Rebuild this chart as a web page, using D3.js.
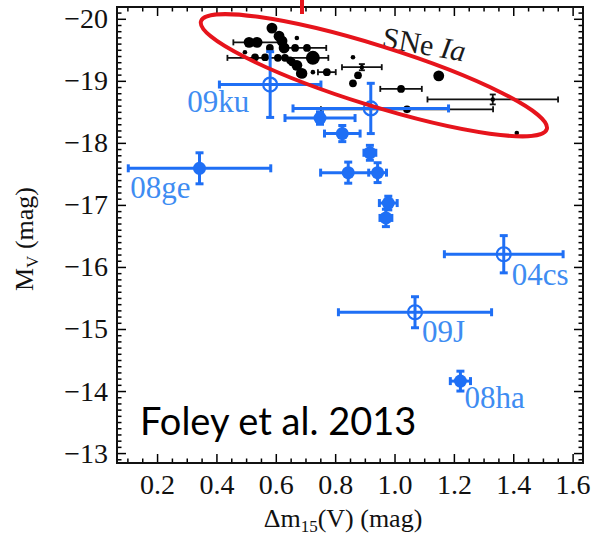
<!DOCTYPE html>
<html>
<head>
<meta charset="utf-8">
<script src="https://cdn.jsdelivr.net/npm/d3@7"></script>
<style>
  body { margin: 0; background: #fff; }
  svg { display: block; }
</style>
</head>
<body>
<svg id="chart" width="597" height="535"></svg>
<script>
// axis ticks
const xTicks = [0.2, 0.4, 0.6, 0.8, 1.0, 1.2, 1.4, 1.6];
const yTicks = [-20, -19, -18, -17, -16, -15, -14, -13];

// peculiar objects (blue)
const blueName = ["09ku", "", "", "", "08ge", "", "", "", "", "", "04cs", "09J", "08ha"];
const blueDm15 = [0.581, 0.749, 0.920, 0.824, 0.343, 0.917, 0.844, 0.943, 0.979, 0.971, 1.368, 1.069, 1.222];
const blueDm15Err = [0.171, 0.118, 0.262, 0.060, 0.240, 0.020, 0.093, 0.030, 0.030, 0.020, 0.200, 0.258, 0.034];
const blueMv = [-18.94, -18.40, -18.555, -18.15, -17.59, -17.84, -17.52, -17.52, -17.03, -16.79, -16.205, -15.27, -14.16];
const blueMvErr = [0.53, 0.10, 0.405, 0.13, 0.25, 0.12, 0.17, 0.16, 0.11, 0.14, 0.30, 0.25, 0.16];
const blueOpen = [true, false, true, false, false, false, false, false, false, false, true, true, false];

// normal SNe Ia (black)
const sniaDm15 = [0.587, 0.611, 0.621, 0.628, 0.537, 0.510, 0.496, 0.530, 0.580, 0.671, 0.665, 0.648, 0.671, 0.688,
                  0.607, 0.631, 0.725, 0.705, 0.681, 0.725, 0.772, 0.860, 0.890, 0.877, 0.860, 1.022, 1.149, 1.042,
                  1.331, 1.412, 0.564, 0.655];
const sniaDm15Err = [0, 0, 0, 0, 0.08, 0, 0, 0, 0, 0, 0, 0, 0, 0,
                     0.17, 0, 0, 0.065, 0, 0, 0.03, 0, 0.067, 0, 0, 0.07, 0, 0.29,
                     0.22, 0, 0, 0];
const sniaMv = [-19.85, -19.72, -19.64, -19.53, -19.62, -19.62, -19.46, -19.38, -19.53, -19.69, -19.53, -19.33, -19.25, -19.12,
                -19.37, -19.37, -19.37, -19.53, -19.12, -19.14, -19.14, -19.38, -19.22, -19.09, -18.96, -18.87, -19.08, -18.54,
                -18.70, -18.16, -19.38, -19.30];
const sniaMvErr = [0, 0, 0, 0, 0, 0, 0, 0, 0, 0, 0, 0, 0, 0,
                   0, 0, 0, 0, 0, 0, 0, 0, 0.05, 0, 0, 0, 0, 0,
                   0.08, 0, 0, 0];
// relative marker weight as seen in the figure
const sniaWeight = [3, 3, 3, 3, 3, 3, 1, 2, 2, 1, 2, 2, 3, 3,
                    2, 2, 4, 2, 2, 1, 2, 1, 1, 2, 2, 2, 3, 2,
                    1, 1, 2, 2];

// ellipse drawn round the SNe Ia group (tips in data units)
const ellipseTips = [[0.348, -19.96], [1.513, -18.22]];

const blue = "#1f6ff5";
const blueText = "#3e8cf2";
const red = "#e6141c";
const SERIF = "'Liberation Serif', 'Times New Roman', Times, serif";

class ScatterView {
  constructor(id) {
    this.svg = d3.select("#" + id);
    this.margin = {top: 7, right: 14, bottom: 72, left: 117};
    this.width = +this.svg.attr("width") - this.margin.left - this.margin.right;
    this.height = +this.svg.attr("height") - this.margin.top - this.margin.bottom;
    this.g = this.svg.append("g")
        .attr("transform", "translate(" + this.margin.left + "," + this.margin.top + ")");
    this.x = d3.scaleLinear().domain([0.065, 1.635]).range([0, this.width]);
    this.y = d3.scaleLinear().domain([-12.84, -20.19]).range([this.height, 0]);
  }

  drawAxes() {
    const x = this.x, y = this.y, w = this.width, h = this.height;
    const xMinor = d3.range(2, 33).map(i => i * 0.05).filter(v => Math.abs(v * 5 - Math.round(v * 5)) > 1e-6);
    const yMinor = d3.range(-201, -128).map(i => i / 10).filter(v => Math.abs(v - Math.round(v)) > 1e-6);

    const addAxis = (axis, transform) => {
      const a = this.g.append("g").attr("class", "axis").attr("transform", transform).call(axis);
      a.attr("font-family", SERIF);
      a.select(".domain").remove();
      a.selectAll(".tick line").attr("stroke", "#000").attr("stroke-width", 1.5);
      return a;
    };

    // major with labels
    const bottom = addAxis(d3.axisBottom(x).tickValues(xTicks).tickSize(-9).tickPadding(11).tickFormat(d3.format(".1f")),
      "translate(0," + h + ")");
    bottom.selectAll("text").attr("font-size", 28).attr("fill", "#111");
    const left = addAxis(d3.axisLeft(y).tickValues(yTicks).tickSize(-9).tickPadding(9).tickFormat(d3.format("d")),
      "translate(0,0)");
    left.selectAll("text").attr("font-size", 28).attr("fill", "#111");

    addAxis(d3.axisTop(x).tickValues(xTicks).tickSize(-9).tickFormat(""), "translate(0,0)");
    addAxis(d3.axisRight(y).tickValues(yTicks).tickSize(-9).tickFormat(""), "translate(" + w + ",0)");

    // minor ticks
    addAxis(d3.axisBottom(x).tickValues(xMinor).tickSize(-4.5).tickFormat(""), "translate(0," + h + ")");
    addAxis(d3.axisTop(x).tickValues(xMinor).tickSize(-4.5).tickFormat(""), "translate(0,0)");
    addAxis(d3.axisLeft(y).tickValues(yMinor).tickSize(-4.5).tickFormat(""), "translate(0,0)");
    addAxis(d3.axisRight(y).tickValues(yMinor).tickSize(-4.5).tickFormat(""), "translate(" + w + ",0)");

    this.g.append("rect")
        .attr("width", w).attr("height", h)
        .attr("fill", "none").attr("stroke", "#111").attr("stroke-width", 2);

    // axis titles
    const xt = this.g.append("text")
        .attr("x", w / 2 - 7).attr("y", h + 64)
        .attr("text-anchor", "middle")
        .attr("font-family", SERIF).attr("font-size", 26).attr("fill", "#111");
    xt.append("tspan").text("\u0394m");
    xt.append("tspan").attr("font-size", 17).attr("dy", 5).text("15");
    xt.append("tspan").attr("dy", -5).text("(V) (mag)");

    const yt = this.g.append("text")
        .attr("transform", "translate(" + (-84) + "," + (h / 2 + 4) + ") rotate(-90)")
        .attr("text-anchor", "middle")
        .attr("font-family", SERIF).attr("font-size", 26).attr("fill", "#111");
    yt.append("tspan").text("M");
    yt.append("tspan").attr("font-size", 17).attr("dy", 5).text("V");
    yt.append("tspan").attr("dy", -5).text(" (mag)");
  }

  errorBars(layer, pts, color, lw, cap) {
    const x = this.x, y = this.y;
    pts.forEach(function(d) {
      const cx = x(d.dm), cy = y(d.mv);
      if (d.dmErr > 0) {
        const x0 = x(d.dm - d.dmErr), x1 = x(d.dm + d.dmErr);
        layer.append("line").attr("x1", x0).attr("x2", x1).attr("y1", cy).attr("y2", cy);
        layer.append("line").attr("x1", x0).attr("x2", x0).attr("y1", cy - cap).attr("y2", cy + cap);
        layer.append("line").attr("x1", x1).attr("x2", x1).attr("y1", cy - cap).attr("y2", cy + cap);
      }
      if (d.mvErr > 0) {
        const y0 = y(d.mv - d.mvErr), y1 = y(d.mv + d.mvErr);
        layer.append("line").attr("x1", cx).attr("x2", cx).attr("y1", y0).attr("y2", y1);
        layer.append("line").attr("x1", cx - cap).attr("x2", cx + cap).attr("y1", y0).attr("y2", y0);
        layer.append("line").attr("x1", cx - cap).attr("x2", cx + cap).attr("y1", y1).attr("y2", y1);
      }
    });
    layer.attr("stroke", color).attr("stroke-width", lw);
  }

  loadData() {
    const x = this.x, y = this.y;
    const snia = sniaDm15.map((v, i) => ({dm: v, dmErr: sniaDm15Err[i], mv: sniaMv[i], mvErr: sniaMvErr[i], w: sniaWeight[i]}));
    const pec = blueDm15.map((v, i) => ({name: blueName[i], dm: v, dmErr: blueDm15Err[i], mv: blueMv[i], mvErr: blueMvErr[i], open: blueOpen[i]}));
    const r = d3.scaleLinear().domain([1, 4]).range([2.3, 7]);

    this.errorBars(this.g.append("g"), snia, "#111", 1.8, 3);
    this.g.append("g").selectAll("circle")
        .data(snia).enter().append("circle")
        .attr("cx", d => x(d.dm)).attr("cy", d => y(d.mv))
        .attr("r", d => r(d.w)).attr("fill", "#000");

    this.errorBars(this.g.append("g"), pec, blue, 3, 4);
    this.g.append("g").selectAll("circle")
        .data(pec).enter().append("circle")
        .attr("cx", d => x(d.dm)).attr("cy", d => y(d.mv))
        .attr("r", d => d.open ? 7 : 6.5)
        .attr("fill", d => d.open ? "none" : blue)
        .attr("stroke", blue).attr("stroke-width", d => d.open ? 2.2 : 0);

    // name labels, offsets in px from the marker
    const labelOffset = {"09ku": [-21, 27, "end"], "08ge": [-9, 30, "end"], "04cs": [8, 31, "start"],
                         "09J": [7, 30, "start"], "08ha": [4, 27, "start"]};
    this.g.append("g").selectAll("text")
        .data(pec.filter(d => d.name))
        .enter().append("text")
        .attr("x", d => x(d.dm) + labelOffset[d.name][0])
        .attr("y", d => y(d.mv) + labelOffset[d.name][1])
        .attr("text-anchor", d => labelOffset[d.name][2])
        .attr("font-family", SERIF).attr("font-size", 31)
        .attr("fill", blueText)
        .text(d => d.name);

    // SNe Ia label
    const lab = this.g.append("text")
        .attr("transform", "translate(264,40) rotate(10)")
        .attr("font-family", SERIF).attr("font-size", 30).attr("fill", "#1a1a1a");
    lab.append("tspan").text("SNe ");
    lab.append("tspan").attr("font-style", "italic").text("Ia");
  }

  drawOverlay() {
    const p1 = [this.x(ellipseTips[0][0]), this.y(ellipseTips[0][1])];
    const p2 = [this.x(ellipseTips[1][0]), this.y(ellipseTips[1][1])];
    const cx = (p1[0] + p2[0]) / 2, cy = (p1[1] + p2[1]) / 2;
    const ang = Math.atan2(p2[1] - p1[1], p2[0] - p1[0]) * 180 / Math.PI;
    const a = Math.hypot(p2[0] - p1[0], p2[1] - p1[1]) / 2;
    this.g.append("ellipse")
        .attr("transform", "translate(" + cx + "," + cy + ") rotate(" + ang + ")")
        .attr("rx", a).attr("ry", 30)
        .attr("fill", "none").attr("stroke", red).attr("stroke-width", 4);

    this.svg.append("line")
        .attr("x1", 302).attr("x2", 302).attr("y1", 0).attr("y2", 14)
        .attr("stroke", red).attr("stroke-width", 4);

    this.svg.append("text")
        .attr("x", 140).attr("y", 435)
        .attr("font-family", "Lato, 'Open Sans', sans-serif").attr("font-size", 38).attr("fill", "#000")
        .text("Foley et al. 2013");
  }
}

const view = new ScatterView("chart");
view.drawAxes();
view.loadData();
view.drawOverlay();
</script>
</body>
</html>
